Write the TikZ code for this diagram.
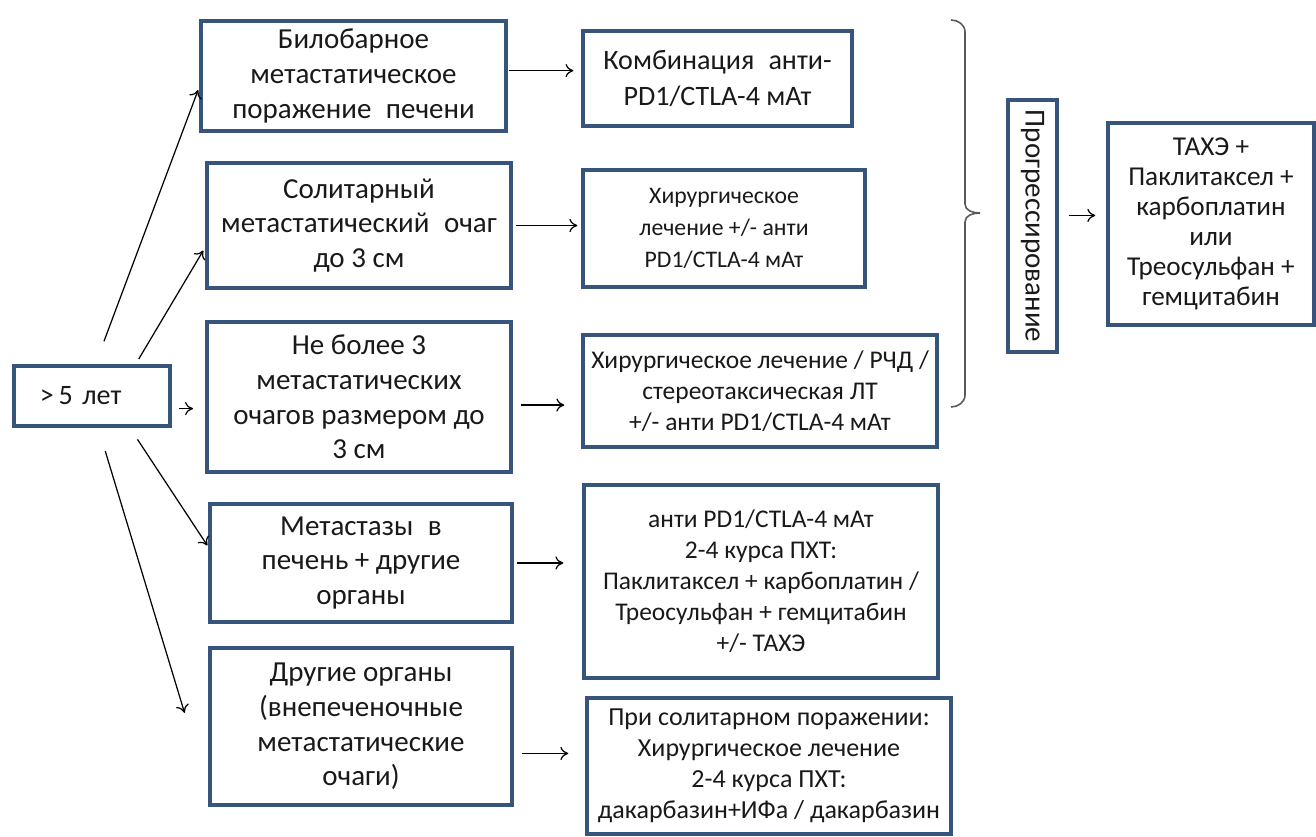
\documentclass[tikz,border=0pt]{standalone}
\usepackage{fontspec}
\setmainfont{Carlito}
\usetikzlibrary{arrows.meta,calc}
\definecolor{boxblue}{RGB}{54,84,124}
\tikzset{
	every node/.style={
		font=\fontsize{16.5}{19.7}\selectfont,
		text=black!90
	},
	lesion/.style={
		shape=rectangle,
		draw=boxblue,
		line width=1.9pt,
		align=center,
		inner sep=2pt
	},
	therapy/.style={
		lesion,
		font=\fontsize{14.5}{17.6}\selectfont
	},
	myarrow/.style={-{To[length=4.5pt,width=7.5pt]}, line width=0.7pt},
	mybrace/.style={line width=0.9pt, draw=black!65}
}

\begin{document}
\begin{tikzpicture}

\useasboundingbox (0,0) rectangle (26.32,16.74);

\node [lesion, minimum width=3.12cm, minimum height=1.2cm, text width=2.08cm, align=left, font=\fontsize{16}{18}\selectfont] (start) at (1.84,8.82) {>\,5 лет};

\node [lesion, minimum width=6.1cm, minimum height=2.2cm] (bilobar) at (7.07,15.22) {Билобарное\\метастатическое\\поражение\enskip печени};
\node [lesion, minimum width=6.08cm, minimum height=2.5cm] (solitar) at (7.18,12.23) {Солитарный\\метастатический\enskip очаг\\до 3 см};
\node [lesion, minimum width=6.08cm, minimum height=3cm] (fewfoci) at (7.18,8.80) {Не более 3\\метастатических\\очагов размером до\\3 см};
\node [lesion, minimum width=6.04cm, minimum height=2.36cm] (livother) at (7.22,5.48) {Метастазы\enskip в\\печень + другие\\органы};
\node [lesion, minimum width=6.04cm, minimum height=3.14cm] (extrahep) at (7.22,2.21) {Другие органы\\(внепеченочные\\метастатические\\очаги)};

\node [therapy, minimum width=5.38cm, minimum height=1.9cm, font=\fontsize{16}{20.5}\selectfont] (combo) at (14.35,15.17) {Комбинация\enskip анти-\\PD1/CTLA-4 мАт};
\node [therapy, minimum width=5.64cm, minimum height=2.34cm, font=\fontsize{13.5}{18}\selectfont] (surgery) at (14.48,12.17) {Хирургическое\\лечение +/- анти\\PD1/CTLA-4 мАт};
\node [therapy, minimum width=7.08cm, minimum height=2.24cm] (local) at (15.20,8.92) {Хирургическое лечение / РЧД /\\стереотаксическая ЛТ\\+/- анти PD1/CTLA-4 мАт};
\node [therapy, minimum width=7.08cm, minimum height=3.86cm] (chemo) at (15.22,5.11) {анти PD1/CTLA-4 мАт\\2-4 курса ПХТ:\\Паклитаксел + карбоплатин /\\Треосульфан + гемцитабин\\+/- ТАХЭ};
\node [therapy, minimum width=7.28cm, minimum height=2.72cm, font=\fontsize{14.8}{17.6}\selectfont] (soloexc) at (15.38,1.42) {При солитарном поражении:\\Хирургическое лечение\\2-4 курса ПХТ:\\дакарбазин+ИФа / дакарбазин};

\node [lesion, minimum width=0.98cm, minimum height=5.04cm, font=\fontsize{16.5}{19}\selectfont] (progress) at (20.65,12.22) {\rotatebox{-90}{Прогрессирование}};
\node [therapy, minimum width=4.12cm, minimum height=4.04cm, font=\fontsize{15.5}{17}\selectfont] (second) at (24.22,12.26) {ТАХЭ +\\Паклитаксел +\\карбоплатин\\или\\Треосульфан +\\гемцитабин};

\draw [myarrow, shorten <=14pt, shorten >=2pt] (start.84) -- (bilobar.184);
\draw [myarrow, shorten <=3.5pt, shorten >=2.3pt] (start.36) -- (solitar.188);
\draw [myarrow, shorten <=4pt, shorten >=7pt] (start.-9) -- (start.-9 -| fewfoci.west);
\draw [myarrow, shorten <=8pt, shorten >=1pt] (start.-40) -- (livother.174);
\draw [myarrow, shorten <=14pt, shorten >=1.64cm] (start.-79) -- (extrahep.203);

\draw [myarrow, shorten <=0.5pt, shorten >=4.5pt] (bilobar.2) -- (bilobar.2 -| combo.west);
\draw [myarrow, shorten <=2pt, shorten >=2.3pt] (solitar.east) -- (solitar.east -| surgery.west);
\draw [myarrow, shorten <=5pt, shorten >=9.7pt] (fewfoci.-3) -- (fewfoci.-3 -| local.west);
\draw [myarrow, shorten <=1.7pt, shorten >=10.8pt] (livother.east) -- (livother.east -| chemo.west);
\draw [myarrow, shorten <=4.5pt, shorten >=9.7pt] (extrahep.-10) -- (extrahep.-10 -| soloexc.west);
\draw [myarrow, shorten <=5.7pt, shorten >=6.3pt] (progress.22) -- (progress.22 -| second.west);

\draw [mybrace] (19.02,16.34) to[out=0,in=90] (19.30,16.10) -- (19.30,12.66) to[out=-90,in=180] (19.60,12.48) to[out=180,in=90] (19.30,12.30) -- (19.30,8.84) to[out=-90,in=0] (19.02,8.60);

\end{tikzpicture}
\end{document}
